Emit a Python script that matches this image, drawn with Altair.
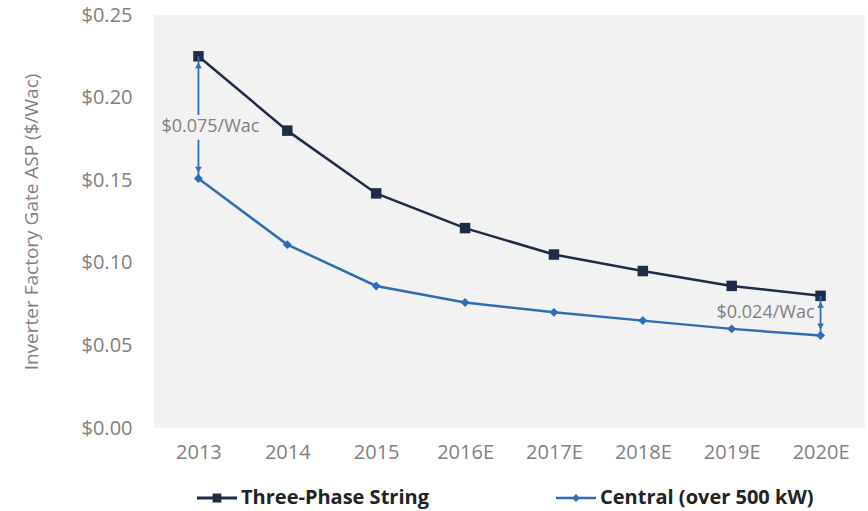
import altair as alt
import pandas as pd

years = ["2013", "2014", "2015", "2016E", "2017E", "2018E", "2019E", "2020E"]
three_phase = [0.225, 0.180, 0.142, 0.121, 0.105, 0.095, 0.086, 0.080]
central = [0.151, 0.111, 0.086, 0.076, 0.070, 0.065, 0.060, 0.056]
series_names = ["Three-Phase String", "Central (over 500 kW)"]
series_colors = ["#1f2c47", "#2e6db5"]
y_ticks = [0.0, 0.05, 0.10, 0.15, 0.20, 0.25]

# annotations: year, top value, bottom value, label, label height
ann_years = ["2013", "2020E"]
ann_top = [0.225, 0.080]
ann_bottom = [0.151, 0.056]
ann_labels = ["$0.075/Wac", "$0.024/Wac"]
ann_text_y = [0.182, 0.0695]

rows = []
for y, a, b in zip(years, three_phase, central):
    rows.append({"year": y, "series": series_names[0], "value": a})
    rows.append({"year": y, "series": series_names[1], "value": b})
df = pd.DataFrame(rows)

ann = pd.DataFrame({"year": ann_years, "top": ann_top, "bottom": ann_bottom,
                    "label": ann_labels, "ty": ann_text_y})
gap = 0.0075
ann["seg1_top"] = ann["top"]
ann["seg1_bot"] = ann["ty"] + gap
ann["seg2_top"] = ann["ty"] - gap
ann["seg2_bot"] = ann["bottom"]

font = "Open Sans"
gray = "#7f7f7f"

x = alt.X("year:N", sort=years, scale=alt.Scale(type="point", padding=0.5),
          axis=alt.Axis(title=None, labelAngle=0, labelFontSize=20, labelColor=gray,
                        labelFont=font, ticks=False, domain=False, labelPadding=14))
y = alt.Y("value:Q", scale=alt.Scale(domain=[0, 0.25], nice=False),
          axis=alt.Axis(values=y_ticks, format="$.2f", title="Inverter Factory Gate ASP ($/Wac)",
                        titleFontSize=19, titleFont=font, titleColor=gray, titleFontWeight="normal",
                        titlePadding=40, labelFontSize=20, labelColor=gray, labelFont=font,
                        ticks=False, domain=False, grid=False, labelPadding=22))

legend_paths = [
    "M-1,-0.07L1,-0.07L1,0.07L-1,0.07Z M-0.22,-0.22L0.22,-0.22L0.22,0.22L-0.22,0.22Z",
    "M-1,-0.06L1,-0.06L1,0.06L-1,0.06Z M0,-0.2L0.2,0L0,0.2L-0.2,0Z",
]
legend_cfg = alt.Legend(title=None, orient="none", direction="horizontal",
                        legendX=43, legendY=463, columns=2, columnPadding=127,
                        symbolSize=1600, symbolOpacity=1, symbolStrokeWidth=0,
                        labelFontSize=20, labelFont=font, labelFontWeight="bold",
                        labelColor="#222222", labelOffset=4, labelLimit=400)

color = alt.Color("series:N", scale=alt.Scale(domain=series_names, range=series_colors),
                  legend=legend_cfg)
shape = alt.Shape("series:N", scale=alt.Scale(domain=series_names, range=legend_paths),
                  legend=legend_cfg)

lines = alt.Chart(df).mark_line(strokeWidth=2.5).encode(x=x, y=y, color=color)

sq = alt.Chart(df).transform_filter(alt.datum.series == series_names[0]).mark_point(
    shape="square", filled=True, size=110, opacity=1, color=series_colors[0]).encode(x=x, y=y)
dm = alt.Chart(df).transform_filter(alt.datum.series == series_names[1]).mark_point(
    shape="diamond", filled=True, size=80, opacity=1, color=series_colors[1]).encode(x=x, y=y)

leg = alt.Chart(df).mark_point(filled=True, opacity=0).encode(x=x, y=y, color=color, shape=shape)

arrow_color = "#2e6db5"
ax = alt.X("year:N", sort=years, scale=alt.Scale(type="point", padding=0.5))
seg1 = alt.Chart(ann).transform_filter(alt.datum.year == "2013").mark_rule(
    color=arrow_color, strokeWidth=1.8).encode(x=ax, y=alt.Y("seg1_top:Q"), y2="seg1_bot:Q")
seg2 = alt.Chart(ann).transform_filter(alt.datum.year == "2013").mark_rule(
    color=arrow_color, strokeWidth=1.8).encode(x=ax, y=alt.Y("seg2_top:Q"), y2="seg2_bot:Q")
seg3 = alt.Chart(ann).transform_filter(alt.datum.year == "2020E").mark_rule(
    color=arrow_color, strokeWidth=1.8).encode(x=ax, y=alt.Y("top:Q"), y2="bottom:Q")
head_up = alt.Chart(ann).mark_point(shape="triangle-up", filled=True, size=45, opacity=1,
                                     color=arrow_color, yOffset=9).encode(x=ax, y=alt.Y("top:Q"))
head_dn = alt.Chart(ann).mark_point(shape="triangle-down", filled=True, size=45, opacity=1,
                                     color=arrow_color, yOffset=-9).encode(x=ax, y=alt.Y("bottom:Q"))

text1 = alt.Chart(ann).transform_filter(alt.datum.year == "2013").mark_text(
    font=font, fontSize=18, color=gray, align="center", baseline="middle", dx=12
).encode(x=ax, y=alt.Y("ty:Q"), text="label:N")
text2 = alt.Chart(ann).transform_filter(alt.datum.year == "2020E").mark_text(
    font=font, fontSize=18, color=gray, align="right", baseline="middle", dx=-6
).encode(x=ax, y=alt.Y("ty:Q"), text="label:N")

chart = alt.layer(
    lines, sq, dm, leg, seg1, seg2, seg3, head_up, head_dn, text1, text2,
).properties(
    width=711, height=413,
    autosize=alt.AutoSizeParams(type="none"),
    padding={"left": 154, "top": 15, "right": 3, "bottom": 83},
    background="white",
).configure_view(fill="#f2f2f2", stroke=None)

chart.save("out.html", embed_options={"renderer": "svg", "actions": False})
